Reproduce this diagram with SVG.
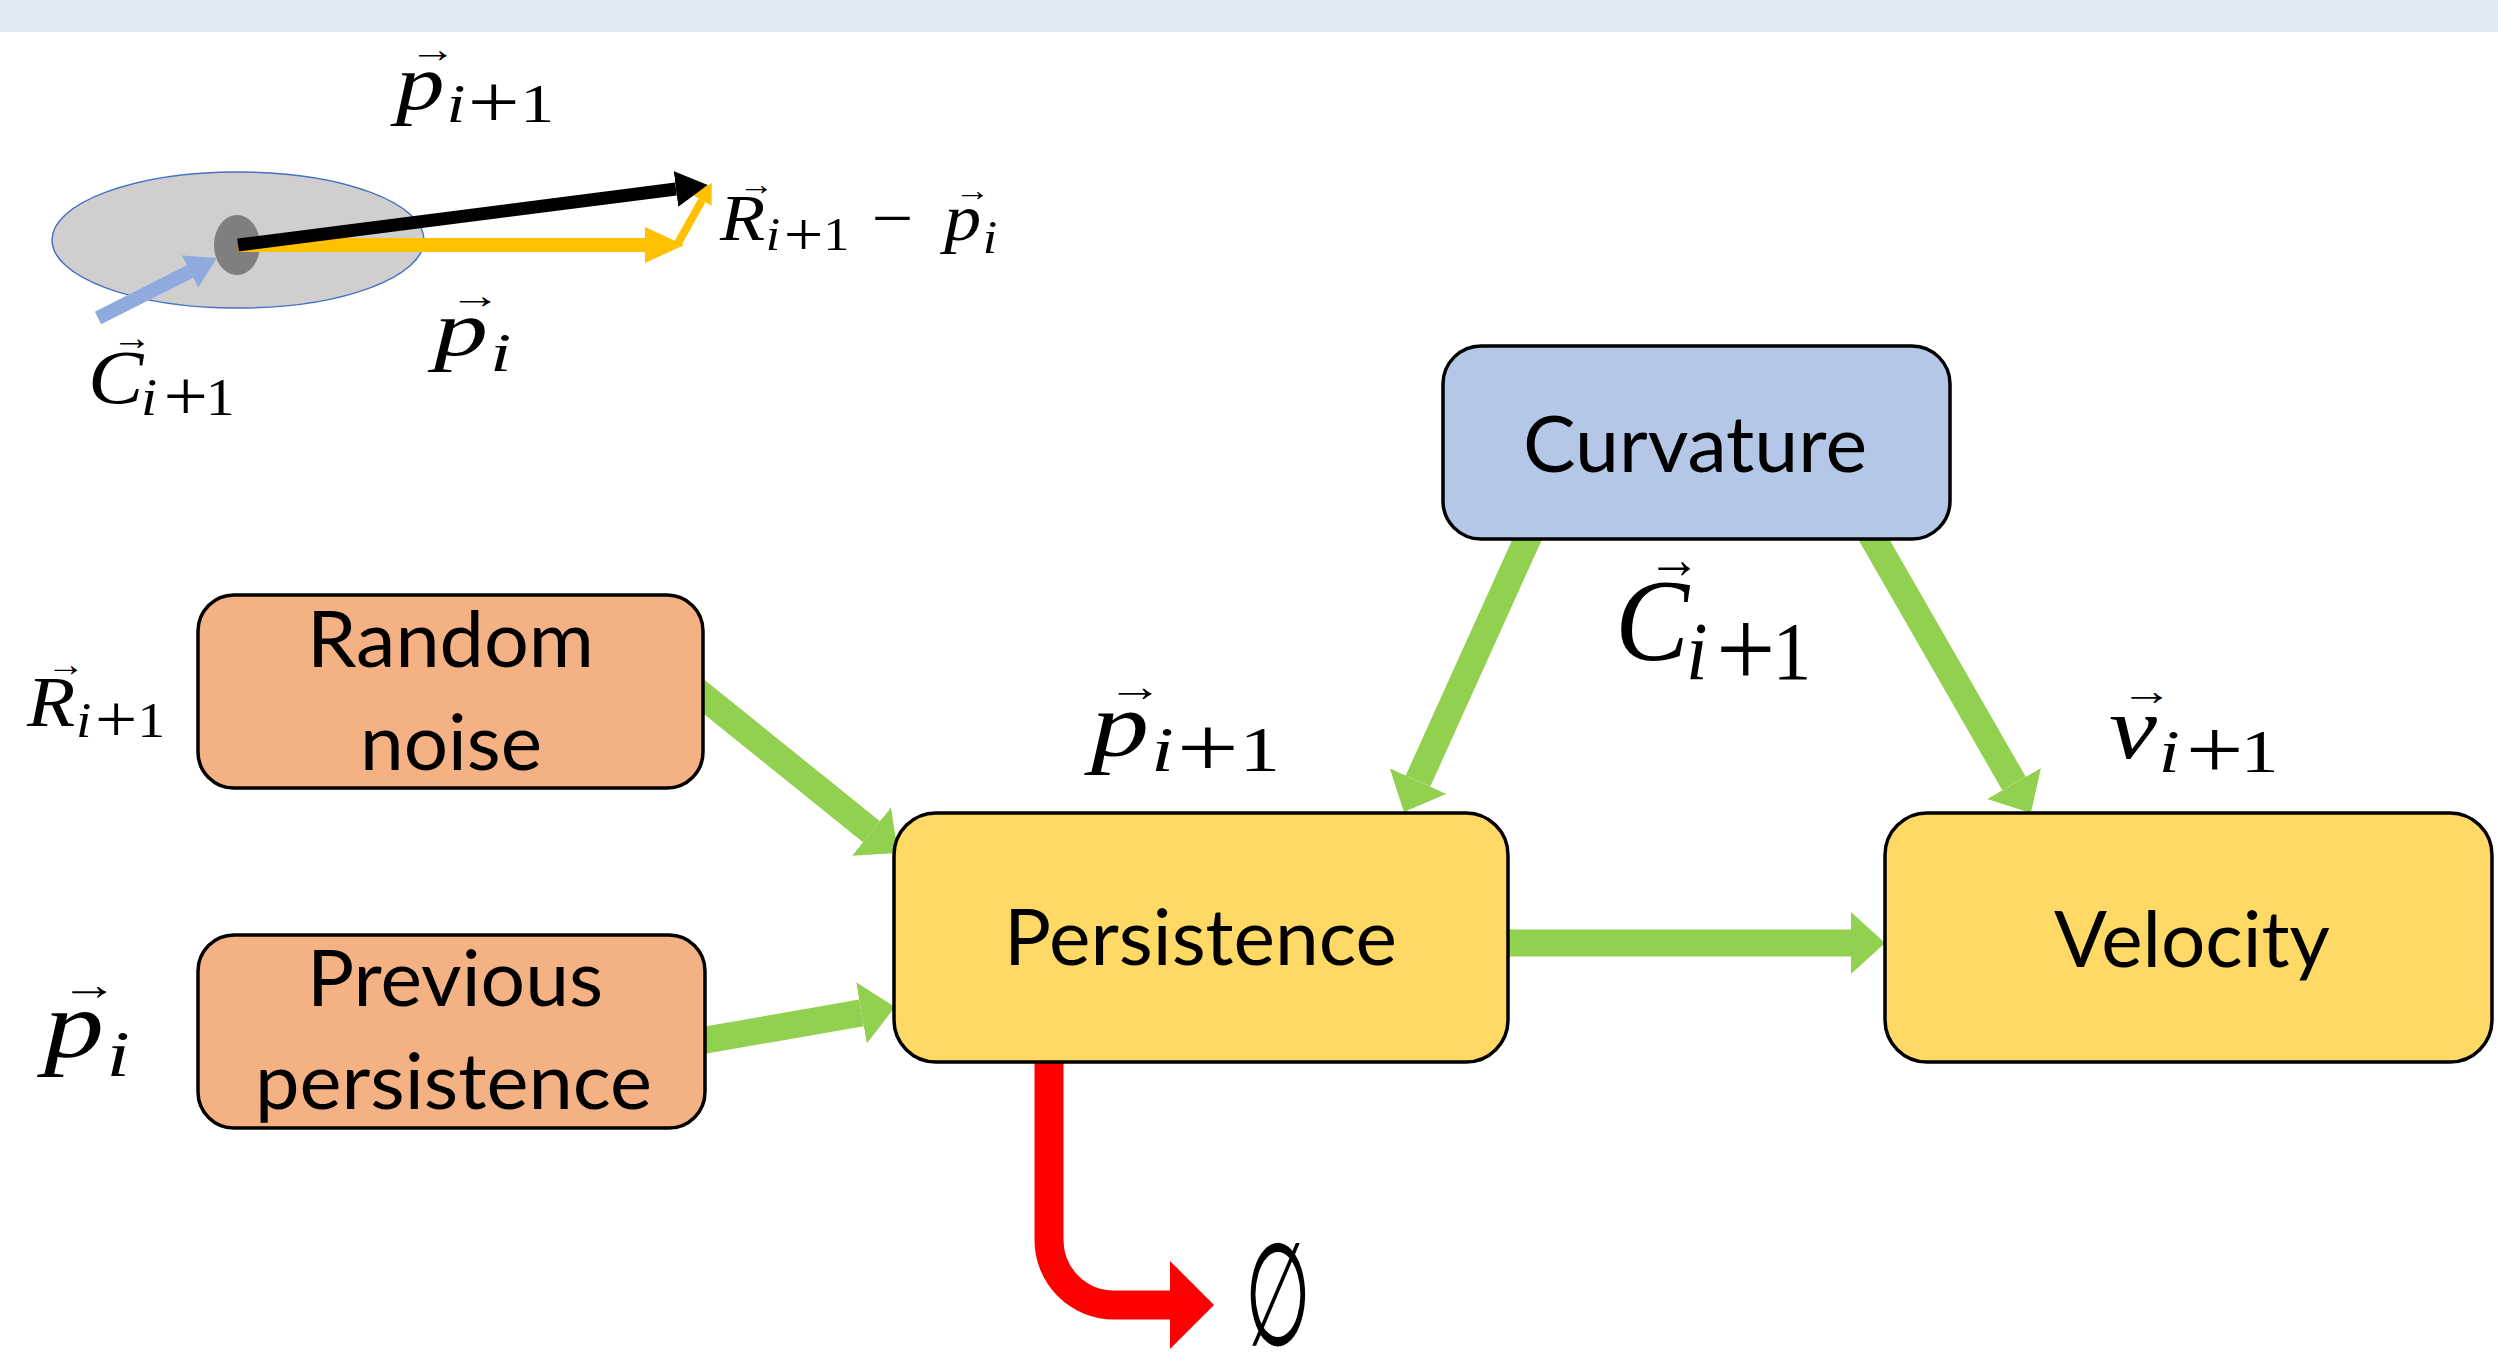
<svg xmlns="http://www.w3.org/2000/svg" width="2498" height="1368" viewBox="0 0 2498 1368">
<style>
.box{stroke:#000;stroke-width:3.5}
.lbl{font-family:"Lato","Open Sans",sans-serif;font-size:78px;fill:#000;text-anchor:middle}
.m{font-family:"Liberation Serif","Times New Roman",serif;fill:#000;font-size:100px}
.mi{font-style:italic;font-size:100px}
.mr{font-style:normal;font-size:100px}
.ar{font-style:normal;font-size:48px}
.ms{font-style:normal;font-size:70px}
.pl{font-style:normal;font-size:95px}
.it{font-style:italic}
.g{stroke:#92d050;stroke-width:27;fill:none}
</style>
<defs>
<marker id="hg" markerUnits="userSpaceOnUse" markerWidth="34" markerHeight="62" refX="0" refY="31" orient="auto"><path d="M0,0 L34,31 L0,62 z" fill="#92d050"/></marker>
<marker id="hr" markerUnits="userSpaceOnUse" markerWidth="44" markerHeight="88" refX="0" refY="44" orient="auto"><path d="M0,0 L44,44 L0,88 z" fill="#ff0000"/></marker>
<marker id="hk" markerUnits="userSpaceOnUse" markerWidth="32" markerHeight="36" refX="0" refY="18" orient="auto"><path d="M0,0 L32,18 L0,36 z" fill="#000"/></marker>
<marker id="hy" markerUnits="userSpaceOnUse" markerWidth="39" markerHeight="36" refX="0" refY="18" orient="auto"><path d="M0,0 L39,18 L0,36 z" fill="#ffc000"/></marker>
<marker id="hys" markerUnits="userSpaceOnUse" markerWidth="20" markerHeight="22" refX="0" refY="11" orient="auto"><path d="M0,0 L20,11 L0,22 z" fill="#ffc000"/></marker>
<marker id="hb" markerUnits="userSpaceOnUse" markerWidth="30" markerHeight="36" refX="0" refY="18" orient="auto"><path d="M0,0 L30,18 L0,36 z" fill="#8faadc"/></marker>
</defs>
<rect x="0" y="0" width="2498" height="1368" fill="#fff"/>
<rect x="0" y="0" width="2498" height="32" fill="#deeaf1"/>

<g id="sketch">
<ellipse cx="238" cy="240" rx="186" ry="68" fill="#d0cece" stroke="#4472c4" stroke-width="1.5"/>
<ellipse cx="237" cy="245" rx="23" ry="30" fill="#7f7f7f"/>
<path d="M238,245 H645" stroke="#ffc000" stroke-width="14" fill="none" marker-end="url(#hy)"/>
<path d="M677,245 L702,200.4" stroke="#ffc000" stroke-width="8" fill="none" marker-end="url(#hys)"/>
<path d="M238,245 L676,189" stroke="#000" stroke-width="13" fill="none" marker-end="url(#hk)"/>
<path d="M98,318 L190,271.5" stroke="#8faadc" stroke-width="14" fill="none" marker-end="url(#hb)"/>
</g>

<g id="connectors">
<path class="g" d="M1500,943 H1851" marker-end="url(#hg)"/>
<path class="g" d="M690,685.5 L871.5,831.7" marker-end="url(#hg)"/>
<path class="g" d="M690,1042.8 L861.5,1012.9" marker-end="url(#hg)"/>
<path class="g" d="M1531,531 L1418,781" marker-end="url(#hg)"/>
<path class="g" d="M1869,531 L2014,783.5" marker-end="url(#hg)"/>
<path d="M1049,1050 V1240 A65,65 0 0 0 1114,1305 H1170" stroke="#ff0000" stroke-width="29" fill="none" marker-end="url(#hr)"/>
</g>

<g id="node-curvature">
<rect class="box" x="1443" y="346" width="507" height="193" rx="38" fill="#b4c7e7"/>
<text class="lbl" x="1695" y="472" textLength="344" lengthAdjust="spacingAndGlyphs">Curvature</text>
</g>
<g id="node-random-noise">
<rect class="box" x="198" y="595" width="505" height="193" rx="36" fill="#f4b183"/>
<text class="lbl" x="450.5" y="667" textLength="287" lengthAdjust="spacingAndGlyphs">Random</text>
<text class="lbl" x="451" y="770" textLength="182" lengthAdjust="spacingAndGlyphs">noise</text>
</g>
<g id="node-previous-persistence">
<rect class="box" x="198" y="935" width="507" height="193" rx="36" fill="#f4b183"/>
<text class="lbl" x="455" y="1006" textLength="296" lengthAdjust="spacingAndGlyphs">Previous</text>
<text class="lbl" x="453.5" y="1109" textLength="397" lengthAdjust="spacingAndGlyphs">persistence</text>
</g>
<g id="node-persistence">
<rect class="box" x="894" y="813" width="614" height="249" rx="42" fill="#ffd966"/>
<text class="lbl" x="1200.5" y="965" textLength="393" lengthAdjust="spacingAndGlyphs">Persistence</text>
</g>
<g id="node-velocity">
<rect class="box" x="1885" y="813" width="607" height="249" rx="42" fill="#ffd966"/>
<text class="lbl" x="2192" y="967" textLength="276" lengthAdjust="spacingAndGlyphs">Velocity</text>
</g>

<g id="labels">
<g transform="translate(396,109) scale(0.97,0.79)">
<text class="m"><tspan class="mi" x="0" y="0">p</tspan><tspan class="ar" x="14" y="-60">→</tspan><tspan class="ms it" x="52" y="16">i</tspan><tspan class="pl" x="74" y="23">+</tspan><tspan class="ms" x="128" y="16">1</tspan></text>
</g>
<g transform="translate(720,240) scale(0.74,0.65)">
<text class="m"><tspan class="mi" x="0" y="0">R</tspan><tspan class="ar" x="25" y="-70">→</tspan><tspan class="ms it" x="62" y="16">i</tspan><tspan class="pl" x="86" y="23">+</tspan><tspan class="ms" x="140" y="16">1</tspan><tspan class="mr" x="205" y="0">−</tspan><tspan class="mi" x="303" y="0">p</tspan><tspan class="ar" x="317" y="-60">→</tspan><tspan class="ms it" x="355" y="20">i</tspan></text>
</g>
<g transform="translate(434,355) scale(1.08,0.78)">
<text class="m"><tspan class="mi" x="0" y="0">p</tspan><tspan class="ar" x="14" y="-60">→</tspan><tspan class="ms it" x="52" y="20">i</tspan></text>
</g>
<g transform="translate(88,403) scale(0.83,0.76)">
<text class="m"><tspan class="mi" x="0" y="0">C</tspan><tspan class="ar" x="29" y="-70">→</tspan><tspan class="ms it" x="64" y="16">i</tspan><tspan class="pl" x="91" y="23">+</tspan><tspan class="ms" x="142" y="16">1</tspan></text>
</g>
<g transform="translate(27,726) scale(0.79,0.71)">
<text class="m"><tspan class="mi" x="0" y="0">R</tspan><tspan class="ar" x="25" y="-70">→</tspan><tspan class="ms it" x="62" y="16">i</tspan><tspan class="pl" x="86" y="23">+</tspan><tspan class="ms" x="140" y="16">1</tspan></text>
</g>
<g transform="translate(44,1057) scale(1.2,0.95)">
<text class="m"><tspan class="mi" x="0" y="0">p</tspan><tspan class="ar" x="14" y="-60">→</tspan><tspan class="ms it" x="52" y="20">i</tspan></text>
</g>
<g transform="translate(1615,660) scale(1.11,1.17)">
<text class="m"><tspan class="mi" x="0" y="0">C</tspan><tspan class="ar" x="29" y="-70">→</tspan><tspan class="ms it" x="64" y="16">i</tspan><tspan class="pl" x="91" y="23">+</tspan><tspan class="ms" x="142" y="16">1</tspan></text>
</g>
<g transform="translate(1091,756) scale(1.16,0.92)">
<text class="m"><tspan class="mi" x="0" y="0">p</tspan><tspan class="ar" x="14" y="-60">→</tspan><tspan class="ms it" x="52" y="16">i</tspan><tspan class="pl" x="74" y="23">+</tspan><tspan class="ms" x="128" y="16">1</tspan></text>
</g>
<g transform="translate(2109,758) scale(1.08,0.89)">
<text class="m"><tspan class="mi" x="0" y="0">v</tspan><tspan class="ar" x="11" y="-60">→</tspan><tspan class="ms it" x="46" y="16">i</tspan><tspan class="pl" x="71" y="23">+</tspan><tspan class="ms" x="122" y="16">1</tspan></text>
</g>
<g transform="translate(1278,1345) scale(0.63,1.2)">
<text x="0" y="0" style="font-family:'DejaVu Serif',serif;font-size:120px;text-anchor:middle">∅</text>
</g>
</g>
</svg>
